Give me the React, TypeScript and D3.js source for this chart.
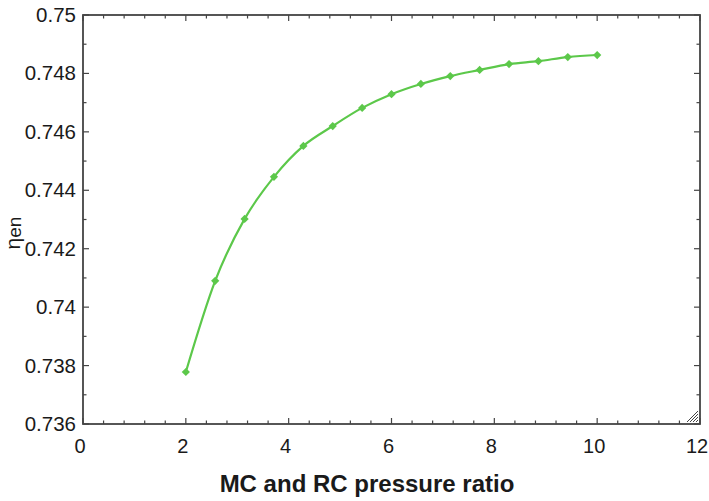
import React from "react";
import * as d3 from "d3";

const xValues = [2, 2.571, 3.143, 3.714, 4.286, 4.857, 5.429, 6, 6.571, 7.143, 7.714, 8.286, 8.857, 9.429, 10];
const yValues = [0.73778, 0.7409, 0.74302, 0.74446, 0.74552, 0.7462, 0.74682, 0.74729, 0.74764, 0.74791, 0.74812, 0.74832, 0.74842, 0.74856, 0.74863];
const xTicks = [0, 2, 4, 6, 8, 10, 12];
const yTicks = [0.736, 0.738, 0.74, 0.742, 0.744, 0.746, 0.748, 0.75];

const W = 709, H = 501;
const M = { left: 83, right: 9, top: 15, bottom: 77 };

export default function App() {
  const x = d3.scaleLinear().domain([0, 12]).range([M.left, W - M.right]);
  const y = d3.scaleLinear().domain([0.736, 0.75]).range([H - M.bottom, M.top]);
  const line = d3.line<number>().x((_, i) => x(xValues[i])).y((d) => y(d)).curve(d3.curveMonotoneX);
  const xMinor = d3.range(0, 12.0001, 0.4);
  const yMinor = d3.range(0.736, 0.75001, 0.001);
  const axisColor = "#444";
  const font = "'Liberation Sans', Arial, sans-serif";
  const x0 = x(0), x1 = x(12), y0 = y(0.736), y1 = y(0.75);
  const marker = d3.symbol().type(d3.symbolSquare).size(34)();
  return (
    <svg width={W} height={H} style={{ position: "absolute", left: 0, top: 0, background: "#fff" }}>
      {xMinor.map((v, i) => {
        const major = Math.abs(v / 2 - Math.round(v / 2)) < 1e-6;
        const len = major ? 6 : 3.5;
        return (
          <g key={"xm" + i}>
            <line x1={x(v)} x2={x(v)} y1={y0} y2={y0 - len} stroke={axisColor} strokeWidth={1.2} />
            <line x1={x(v)} x2={x(v)} y1={y1} y2={y1 + len} stroke={axisColor} strokeWidth={1.2} />
          </g>
        );
      })}
      {yMinor.map((v, i) => {
        const len = i % 2 === 0 ? 6 : 3.5;
        return (
          <g key={"ym" + i}>
            <line x1={x0} x2={x0 + len} y1={y(v)} y2={y(v)} stroke={axisColor} strokeWidth={1.2} />
            <line x1={x1} x2={x1 - len} y1={y(v)} y2={y(v)} stroke={axisColor} strokeWidth={1.2} />
          </g>
        );
      })}
      <rect x={x0} y={y1} width={x1 - x0} height={y0 - y1} fill="none" stroke={axisColor} strokeWidth={1.8} />
      {[0, 1, 2, 3].map((k) => (
        <line key={"h" + k} x1={x1 - 13 + k * 3} y1={y0 - 2} x2={x1 - 2} y2={y0 - 13 + k * 3} stroke={axisColor} strokeWidth={1} />
      ))}
      {xTicks.map((t) => (
        <text key={"xt" + t} x={x(t) - 3} y={y0 + 29} textAnchor="middle" fontFamily={font} fontSize={20} fill="#1a1a1a">
          {t}
        </text>
      ))}
      {yTicks.map((t) => (
        <text key={"yt" + t} x={x0 - 7} y={y(t) + 7} textAnchor="end" fontFamily={font} fontSize={20.5} fill="#1a1a1a">
          {String(t)}
        </text>
      ))}
      <path d={line(yValues) || ""} fill="none" stroke="#5cc84a" strokeWidth={2.2} />
      {yValues.map((v, i) => (
        <path key={"p" + i} d={marker || ""} transform={`translate(${x(xValues[i])},${y(v)}) rotate(45)`} fill="#5cc84a" />
      ))}
      <text x={367} y={492} textAnchor="middle" fontFamily={font} fontWeight="bold" fontSize={24} fill="#1a1a1a">
        MC and RC pressure ratio
      </text>
      <text transform={`translate(20, 233) rotate(-90)`} textAnchor="middle" fontFamily={font} fontSize={21} fill="#1a1a1a">
        η<tspan fontSize={19} dy={1}>en</tspan>
      </text>
    </svg>
  );
}
